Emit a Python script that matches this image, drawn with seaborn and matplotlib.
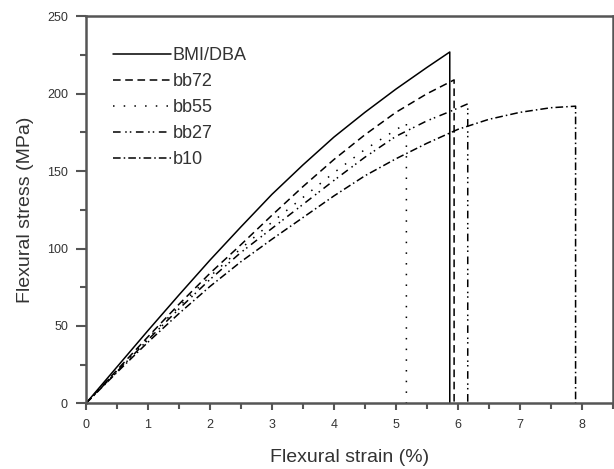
import numpy as np
import pandas as pd
import seaborn as sns
import matplotlib.pyplot as plt
from matplotlib.ticker import MultipleLocator

sns.set_style("ticks")
plt.rcParams['font.family'] = ['Liberation Sans', 'DejaVu Sans']

# strain (%) / stress (MPa); last point = fracture drop
bmi_x = [0, 0.5, 1, 1.5, 2, 2.5, 3, 3.5, 4, 4.5, 5, 5.5, 5.87, 5.87]
bmi_y = [0, 23.5, 47, 70, 92.5, 114, 135, 154, 172, 188, 203, 217, 227, 0]
bb72_x = [0, 0.5, 1, 1.5, 2, 2.5, 3, 3.5, 4, 4.5, 5, 5.5, 5.94, 5.94]
bb72_y = [0, 21.5, 43, 64, 84, 102.5, 121.5, 140, 157.5, 173.5, 188, 200, 209, 0]
bb55_x = [0, 0.5, 1, 1.5, 2, 2.5, 3, 3.5, 4, 4.5, 5.17, 5.17]
bb55_y = [0, 21, 42, 62.5, 82, 100, 117, 133, 149, 164, 181, 0]
bb27_x = [0, 0.5, 1, 1.5, 2, 2.5, 3, 3.5, 4, 4.5, 5, 5.5, 5.87, 6.16, 6.16]
bb27_y = [0, 20.5, 41, 61, 80, 97.5, 113, 128.5, 144, 159, 172.5, 182.5, 188.5, 193.5, 0]
b10_x = [0, 0.5, 1, 1.5, 2, 2.5, 3, 3.5, 4, 4.5, 5, 5.5, 6, 6.5, 7, 7.5, 7.9, 7.9]
b10_y = [0, 20, 39.5, 58, 75.5, 91.5, 106, 120, 134, 147, 158, 168, 177, 183.5, 188, 191, 192, 0]

labels = ["BMI/DBA", "bb72", "bb55", "bb27", "b10"]
styles = ["-", (0, (5, 3)), (0, (1, 6)), (0, (5, 3, 1, 2, 1, 3)), (0, (5, 2, 1, 2))]
series = [(bmi_x, bmi_y), (bb72_x, bb72_y), (bb55_x, bb55_y), (bb27_x, bb27_y), (b10_x, b10_y)]

fig = plt.figure(figsize=(6.14, 4.69), dpi=100)
ax = fig.add_axes([0.14, 0.14, 0.858, 0.825])

for (xs, ys), lab, ls in zip(series, labels, styles):
    df = pd.DataFrame({"strain": xs, "stress": ys})
    sns.lineplot(data=df, x="strain", y="stress", sort=False, estimator=None,
                 color="black", linewidth=1.1, linestyle=ls, label=lab, ax=ax)

ax.set_xlim(0, 8.5)
ax.set_ylim(0, 250)
ax.xaxis.set_major_locator(MultipleLocator(1))
ax.xaxis.set_minor_locator(MultipleLocator(0.5))
ax.yaxis.set_major_locator(MultipleLocator(50))
ax.yaxis.set_minor_locator(MultipleLocator(25))
for s in ax.spines.values():
    s.set_visible(True)
    s.set_color("#555555")
    s.set_linewidth(1.8)
ax.tick_params(which="major", direction="out", width=1.5, color="#555555",
               labelsize=9, labelcolor="#333333")
ax.tick_params(axis="y", which="major", length=7, pad=6)
ax.tick_params(axis="x", which="major", length=5, pad=6)
ax.tick_params(which="minor", direction="out", length=4, width=1.5, color="#555555")

ax.set_xlabel("Flexural strain (%)", fontsize=14, labelpad=13, color="#333333")
ax.set_ylabel("Flexural stress (MPa)", fontsize=14, labelpad=9, color="#333333")

leg = ax.legend(loc="upper left", bbox_to_anchor=(0.02, 0.962), frameon=False,
                handlelength=3.2, handletextpad=0.1, labelspacing=0.5, fontsize=13)
for t in leg.get_texts():
    t.set_color("#333333")

fig.savefig("out.png", dpi=100)
